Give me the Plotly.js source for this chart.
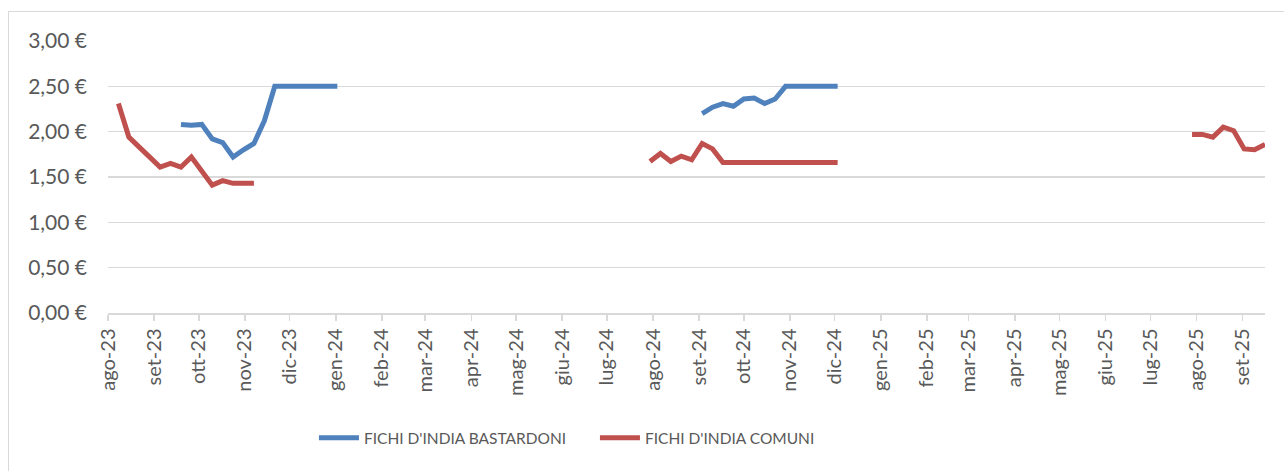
<!DOCTYPE html>
<html>
<head>
<meta charset="utf-8">
<script src="https://cdn.plot.ly/plotly-3.0.1.min.js"></script>
<style>
  html, body { margin: 0; padding: 0; background: #ffffff; overflow: hidden; }
  #frame { position: absolute; left: 8px; top: 11px; width: 1400px; height: 600px;
           border: 1.5px solid #d9d9d9; box-sizing: border-box; }
  #chart { position: absolute; left: 0; top: 0; width: 1284px; height: 471px; }
</style>
</head>
<body>
<div id="frame"></div>
<div id="chart"></div>
<script>
// ---- data ----
const bastardoniDates2023 = ["2023-09-19","2023-09-26","2023-10-03","2023-10-10","2023-10-17","2023-10-24","2023-10-31","2023-11-07","2023-11-14","2023-11-21","2023-11-28","2023-12-05","2023-12-12","2023-12-19","2023-12-26","2024-01-02"];
const bastardoniValues2023 = [2.08, 2.07, 2.08, 1.92, 1.88, 1.72, 1.80, 1.87, 2.12, 2.50, 2.50, 2.50, 2.50, 2.50, 2.50, 2.50];

const bastardoniDates2024 = ["2024-09-03","2024-09-10","2024-09-17","2024-09-24","2024-10-01","2024-10-08","2024-10-15","2024-10-22","2024-10-29","2024-11-05","2024-11-12","2024-11-19","2024-11-26","2024-12-03"];
const bastardoniValues2024 = [2.20, 2.27, 2.31, 2.28, 2.36, 2.37, 2.31, 2.36, 2.50, 2.50, 2.50, 2.50, 2.50, 2.50];

const comuniDates2023 = ["2023-08-08","2023-08-15","2023-08-22","2023-08-29","2023-09-05","2023-09-12","2023-09-19","2023-09-26","2023-10-03","2023-10-10","2023-10-17","2023-10-24","2023-10-31","2023-11-07"];
const comuniValues2023 = [2.31, 1.94, 1.83, 1.72, 1.61, 1.65, 1.61, 1.72, 1.57, 1.41, 1.46, 1.43, 1.43, 1.43];

const comuniDates2024 = ["2024-07-30","2024-08-06","2024-08-13","2024-08-20","2024-08-27","2024-09-03","2024-09-10","2024-09-17","2024-09-24","2024-10-01","2024-10-08","2024-10-15","2024-10-22","2024-10-29","2024-11-05","2024-11-12","2024-11-19","2024-11-26","2024-12-03"];
const comuniValues2024 = [1.67, 1.76, 1.67, 1.73, 1.69, 1.87, 1.81, 1.66, 1.66, 1.66, 1.66, 1.66, 1.66, 1.66, 1.66, 1.66, 1.66, 1.66, 1.66];

const comuniDates2025 = ["2025-07-29","2025-08-05","2025-08-12","2025-08-19","2025-08-26","2025-09-02","2025-09-09","2025-09-16"];
const comuniValues2025 = [1.97, 1.97, 1.94, 2.05, 2.01, 1.81, 1.80, 1.86];

const seriesNames = ["FICHI D'INDIA BASTARDONI", "FICHI D'INDIA COMUNI"];

const monthTickDates = ["2023-08-01","2023-09-01","2023-10-01","2023-11-01","2023-12-01","2024-01-01","2024-02-01","2024-03-01","2024-04-01","2024-05-01","2024-06-01","2024-07-01","2024-08-01","2024-09-01","2024-10-01","2024-11-01","2024-12-01","2025-01-01","2025-02-01","2025-03-01","2025-04-01","2025-05-01","2025-06-01","2025-07-01","2025-08-01","2025-09-01"];
const monthTickLabels = ["ago-23","set-23","ott-23","nov-23","dic-23","gen-24","feb-24","mar-24","apr-24","mag-24","giu-24","lug-24","ago-24","set-24","ott-24","nov-24","dic-24","gen-25","feb-25","mar-25","apr-25","mag-25","giu-25","lug-25","ago-25","set-25"];

// ---- build traces (null separates seasons) ----
const bx = [].concat(bastardoniDates2023, ["2024-03-01"], bastardoniDates2024);
const by = [].concat(bastardoniValues2023, [null], bastardoniValues2024);
const cx = [].concat(comuniDates2023, ["2024-03-01"], comuniDates2024, ["2025-03-01"], comuniDates2025);
const cy = [].concat(comuniValues2023, [null], comuniValues2024, [null], comuniValues2025);

const FONT = "Lato, 'Open Sans', sans-serif";
const TXT = "#595959";

const traces = [
  { x: bx, y: by, type: "scatter", mode: "lines", name: seriesNames[0],
    connectgaps: false, line: { color: "#4f81bd", width: 5, shape: "linear" }, hoverinfo: "skip" },
  { x: cx, y: cy, type: "scatter", mode: "lines", name: seriesNames[1],
    connectgaps: false, line: { color: "#c0504d", width: 5, shape: "linear" }, hoverinfo: "skip" }
];

const layout = {
  width: 1284, height: 471,
  paper_bgcolor: "rgba(0,0,0,0)", plot_bgcolor: "rgba(0,0,0,0)",
  separators: ",.",
  margin: { l: 108, r: 19, t: 41, b: 158 },
  font: { family: FONT, size: 20, color: TXT },
  showlegend: true,
  legend: { orientation: "h", x: 0.178, xanchor: "left", y: -0.46, yanchor: "middle",
            font: { family: FONT, size: 15.5, color: TXT }, traceorder: "normal",
            itemwidth: 40, entrywidth: 226, entrywidthmode: "pixels",
            bgcolor: "rgba(0,0,0,0)" },
  xaxis: {
    type: "date",
    range: ["2023-08-01", "2025-09-16"],
    tickmode: "array", tickvals: monthTickDates, ticktext: monthTickLabels,
    tickangle: -90, ticks: "outside", ticklen: 6, tickcolor: "#d9d9d9", tickwidth: 1.5,
    showline: true, linecolor: "#d9d9d9", linewidth: 1.5,
    showgrid: false, zeroline: false,
    tickfont: { family: FONT, size: 20, color: TXT }, fixedrange: true
  },
  yaxis: {
    range: [0, 3], dtick: 0.5, tick0: 0,
    tickformat: ".2f", ticksuffix: " €",
    showgrid: true, gridcolor: "#d9d9d9", gridwidth: 1.5,
    zeroline: false, showline: false, ticks: "",
    ticklabelstandoff: 20,
    tickfont: { family: FONT, size: 21, color: TXT }, fixedrange: true
  }
};

Plotly.newPlot("chart", traces, layout, { displayModeBar: false, staticPlot: true });
</script>
</body>
</html>
